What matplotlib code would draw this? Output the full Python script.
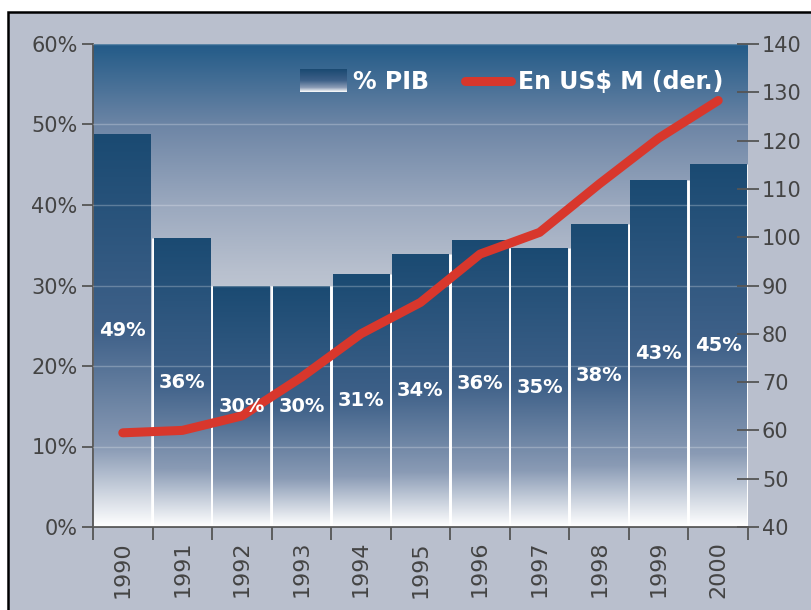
import numpy as np
import matplotlib
matplotlib.use("Agg")
import matplotlib.pyplot as plt
from matplotlib.colors import LinearSegmentedColormap
from matplotlib.patches import Rectangle, Patch
from matplotlib.lines import Line2D
from matplotlib.legend_handler import HandlerBase
from matplotlib.image import BboxImage
from matplotlib.transforms import Bbox, TransformedBbox

# data
years = ["1990", "1991", "1992", "1993", "1994", "1995",
         "1996", "1997", "1998", "1999", "2000"]
pct_pib = [48.8, 35.9, 30.0, 30.0, 31.4, 33.9, 35.7, 34.7, 37.7, 43.1, 45.1]
usd_m = [59.5, 60, 63, 71, 80, 86.5, 96.5, 101, 111, 120.5, 128.3]

plt.rcParams['font.family'] = ['DejaVu Sans']

bar_cmap = LinearSegmentedColormap.from_list(
    "bars", [(0, "#FFFFFF"), (0.2, "#8A9BB5"), (0.5, "#3F6189"), (1, "#1A4A72")])
bg_cmap = LinearSegmentedColormap.from_list(
    "bg", [(0, "#FFFFFF"), (0.35, "#D0D5DF"), (0.53, "#B8C0CE"),
           (0.67, "#9AA8BE"), (0.83, "#6E86A6"), (1, "#235B88")])

fig = plt.figure(figsize=(8.11, 6.10), dpi=100, facecolor="white")
# grey panel with black border (cut off on right and bottom)
fig.add_artist(Rectangle((8/811, -0.05), 1.1, (610-12)/610 + 0.05,
                         transform=fig.transFigure, facecolor="#B9BFCD",
                         edgecolor="black", lw=1.8, zorder=-10))

ax = fig.add_axes([93/811, 1-527/610, 655/811, 483/610])
x = np.arange(len(years))

grad = np.linspace(0, 1, 256).reshape(-1, 1)
ax.imshow(grad, extent=(-0.5, len(years)-0.5, 0, 60), aspect="auto",
          cmap=bg_cmap, origin="lower", zorder=0, interpolation="bilinear")

bars = ax.bar(x, pct_pib, width=0.955, facecolor="none", edgecolor="none", zorder=3)
for b in bars:
    im = ax.imshow(grad, extent=(b.get_x(), b.get_x()+b.get_width(), 0, b.get_height()),
                   aspect="auto", cmap=bar_cmap, origin="lower", zorder=2,
                   interpolation="bilinear")
    im.set_clip_path(b)

# white gaps between neighbouring bars
edges = x[:-1] + 0.5
gap_top = np.minimum(pct_pib[:-1], pct_pib[1:])
ax.vlines(edges, 0, gap_top, color="white", lw=2.0, zorder=1.8)
ax.vlines([len(years) - 0.5], 0, pct_pib[-1], color="white", lw=2.0, zorder=1.8)

ax.set_xlim(-0.5, len(years)-0.5)
ax.set_ylim(0, 60)
ax.set_yticks(range(0, 61, 10))
ax.set_yticklabels([f"{v}%" for v in range(0, 61, 10)])
ax.set_xticks(np.arange(-0.5, len(years), 1.0))
ax.set_xticklabels([])
ax.set_xticks(x, minor=True)
ax.set_xticklabels(years, minor=True, rotation=90, fontsize=16, color="#444444")
ax.tick_params(axis="x", which="minor", length=0, pad=10)
ax.tick_params(axis="x", which="major", direction="out", length=9, width=1.3, color="#555555")
ax.tick_params(axis="y", direction="out", length=8, width=1.3, color="#555555",
               labelsize=15, labelcolor="#444444", pad=3)
ax.grid(axis="y", color="white", alpha=0.25, lw=1)
ax.set_axisbelow(False)
for s in ["top", "right"]:
    ax.spines[s].set_visible(False)
for s in ["left", "bottom"]:
    ax.spines[s].set_color("#555555")
    ax.spines[s].set_linewidth(1.3)

ax2 = ax.twinx()
line, = ax2.plot(x, usd_m, color="#D8372C", lw=6.5, solid_capstyle="round",
                 solid_joinstyle="round", zorder=4)
ax2.set_ylim(40, 140)
ax2.set_yticks(range(40, 141, 10))
ax2.tick_params(axis="y", direction="inout", length=16, width=1.3, color="#555555",
                labelsize=15, labelcolor="#444444", pad=2)
for s in ax2.spines.values():
    s.set_visible(False)

for xi, v in zip(x, pct_pib):
    ax2.text(xi, v/2, f"{round(v)}%", transform=ax.transData, ha="center",
             va="center", color="white", fontsize=14, fontweight="bold", zorder=6)


class GradientHandler(HandlerBase):
    def create_artists(self, legend, orig_handle, xdescent, ydescent,
                       width, height, fontsize, trans):
        bb = Bbox.from_bounds(-xdescent, -ydescent - 2, width, height + 4)
        img = BboxImage(TransformedBbox(bb, trans), cmap=bar_cmap,
                        interpolation="bilinear", origin="lower")
        img.set_data(grad)
        return [img]


pib_handle = Patch(label="% PIB")
line_handle = Line2D([], [], color="#D8372C", lw=6.5, solid_capstyle="round",
                     label="En US$ M (der.)")
leg = ax2.legend(handles=[pib_handle, line_handle], ncol=2, loc="center right",
                 bbox_to_anchor=(0.962, 0.921), frameon=False, fontsize=17,
                 handlelength=1.95, handletextpad=0.3, columnspacing=1.5,
                 borderpad=0, borderaxespad=0,
                 handler_map={pib_handle: GradientHandler()})
for t in leg.get_texts():
    t.set_color("white")
    t.set_fontweight("bold")

fig.savefig("out.png", dpi=100, facecolor=fig.get_facecolor())
